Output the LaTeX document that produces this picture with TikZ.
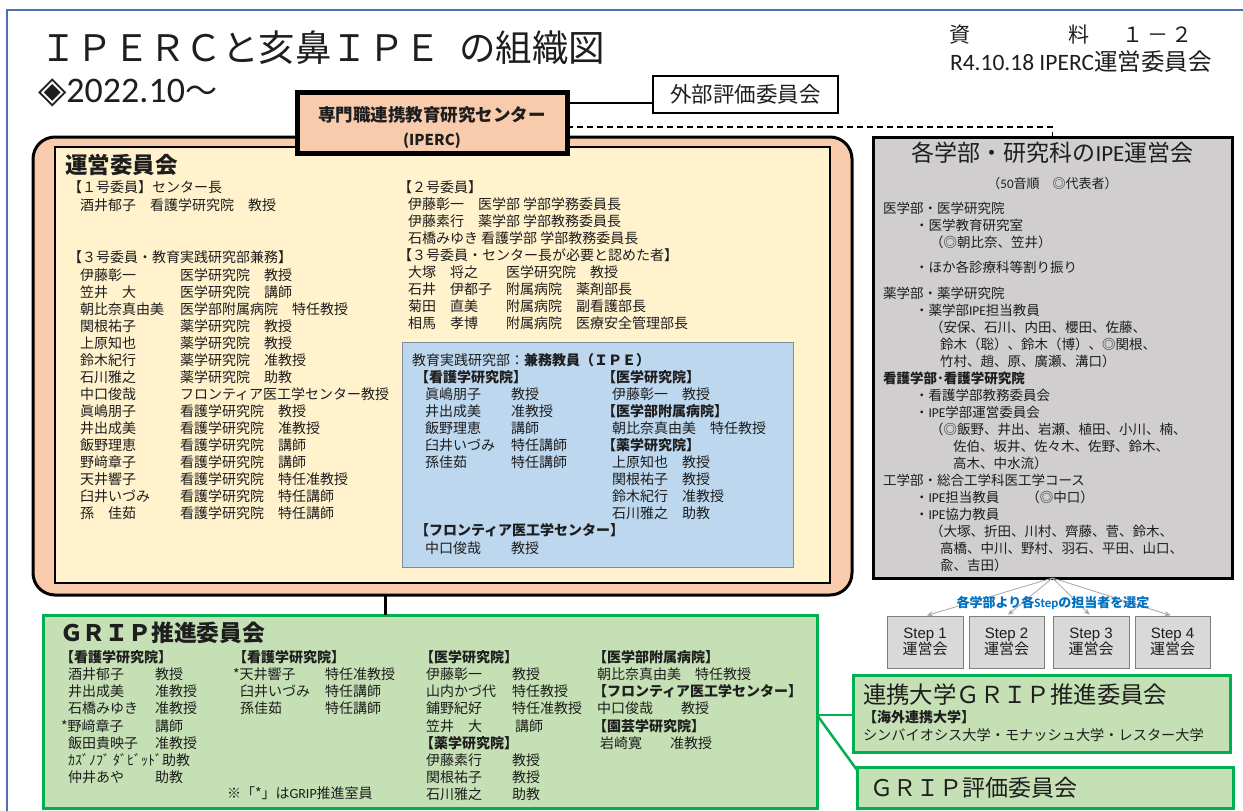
\documentclass[tikz,border=0pt]{standalone}
\usepackage{fontspec}
\setmainfont{Noto Sans CJK JP}
\newfontfamily\lat{Carlito}
\newfontfamily\ari{Liberation Sans}
\newfontfamily\dvs{DejaVu Sans}
\usetikzlibrary{arrows.meta}
\definecolor{tx}{HTML}{1E1E1E}
\definecolor{salmon}{HTML}{F8CBAD}
\definecolor{cream}{HTML}{FFF2CC}
\definecolor{ipeblue}{HTML}{BDD7EE}
\definecolor{blueline}{HTML}{7F8C9E}
\definecolor{grayfill}{HTML}{D0CECE}
\definecolor{grn}{HTML}{00B050}
\definecolor{grnfill}{HTML}{C5E0B4}
\definecolor{stepfill}{HTML}{D9D9D9}
\definecolor{stepline}{HTML}{7F7F7F}
\definecolor{arrgray}{HTML}{A6A6A6}
\definecolor{lblue}{HTML}{0070C0}
\definecolor{frameblue}{HTML}{4A72B0}
\newcommand\fz[2]{\fontsize{#1}{#2}\selectfont}
\newcommand\Lines[1]{\vtop{\halign{##\hfil\cr#1\crcr}}}
\begin{document}
\begin{tikzpicture}[x=1pt,y=-1pt,
  txt/.style={anchor=base west,inner sep=0pt,outer sep=0pt,text=tx},
  ctxt/.style={anchor=base,inner sep=0pt,outer sep=0pt,text=tx},
  boxnw/.style={anchor=north west,inner sep=0pt,outer sep=0pt},
  bodyf/.style={font=\fz{14}{17}},
  gbodyf/.style={font=\fz{14}{17.2}},
  graybodyf/.style={font=\fz{13.5}{17}},
  stepbox/.style={draw=stepline,fill=stepfill,line width=0.8pt,minimum height=52pt,inner sep=0pt,outer sep=0pt,align=center,font=\fz{15}{16},text=tx},
  arr/.style={draw=arrgray,line width=0.8pt,-{Stealth[length=6pt,width=5pt]},shorten >=2pt},
  grline/.style={draw=grn,line width=2.5pt}
]
\useasboundingbox (0,0) rectangle (1243,811);
\fill[white] (0,0) rectangle (1243,811);
\draw[frameblue,line width=1.2pt] (7,830) -- (7,10) -- (1250,10);

% ---------- title ----------
\node[txt,font=\fz{36.5}{40}] (title) at (40,61.7) {ＩＰＥＲＣと亥鼻ＩＰＥ\hspace{18pt}の組織図};
\node[txt] (date) at (38,102) {{\dvs\fz{37}{38}◈}{\lat\fz{36}{38}2022.10}{\fz{32}{34}～}};
\node[txt,font=\fz{21}{24}] (shiryoA) at (949,42.6) {資};
\node[txt,font=\fz{21}{24}] (shiryoB) at (1068,42.6) {料};
\node[txt,font=\fz{21}{24}] (shiryoC) at (1122,42.6) {１\hspace{4pt}－\hspace{4pt}２};
\node[txt,font=\fz{23.5}{26}] (meeting) at (950,70.5) {{\lat R4.10.18 IPERC}運営委員会};

% ---------- boxes ----------
\node[boxnw,draw=black,line width=3pt,fill=salmon,rounded corners=22pt,minimum width=819pt,minimum height=458pt] (salmonbox) at (33,137) {};
\node[boxnw,draw=black,line width=2.5pt,fill=cream,minimum width=775pt,minimum height=436pt] (cream) at (55,147) {};
\node[boxnw,draw=blueline,line width=1pt,fill=ipeblue,minimum width=391pt,minimum height=225pt] (ipe) at (402,342) {};
\node[boxnw,draw=black,line width=5pt,fill=salmon,minimum width=270pt,minimum height=61pt] (iperc) at (297,92) {};
\node[boxnw,draw=black,line width=1.2pt,fill=white,minimum width=185pt,minimum height=37pt,font=\fz{21.5}{24},text=tx] (gaibu) at (653,76) {外部評価委員会};
\node[boxnw,draw=black,line width=3pt,fill=grayfill,minimum width=359pt,minimum height=441pt] (gray) at (873,137) {};
\node[boxnw,draw=grn,line width=3pt,fill=grnfill,minimum width=774pt,minimum height=193pt] (grip) at (43,615) {};
\node[boxnw,draw=grn,line width=3pt,fill=grnfill,minimum width=377pt,minimum height=77pt] (renkei) at (853,675) {};
\node[boxnw,draw=grn,line width=3pt,fill=grnfill,minimum width=376pt,minimum height=41pt] (hyoka) at (857,767) {};

% ---------- connectors ----------
\coordinate (c1) at ([yshift=-8.5pt]gaibu.west);
\draw[line width=2.5pt] (c1) -- (c1 -| iperc.east);
\coordinate (c2) at ([yshift=-4.5pt]iperc.east);
\draw[line width=1.3pt,dash pattern=on 6pt off 4pt] (c2) -| (gray.north);
\coordinate (c3) at ([xshift=-57.5pt]salmonbox.south);
\draw[line width=3pt] (c3) -- (c3 |- grip.north);
\coordinate (rw) at ([yshift=-1.5pt]renkei.west);
\coordinate (c4) at (rw -| grip.east);
\coordinate (hw) at ([yshift=-3pt]hyoka.north west);
\draw[grline] (c4) -- (rw);
\draw[grline] (c4) -- (hw);

% ---------- IPERC ----------
\node[ctxt,font=\bfseries\fz{17.5}{20}] (ipt1) at (432,121.6) {専門職連携教育研究センター};
\node[ctxt,font=\bfseries\fz{15}{18}] (ipt2) at (432,145.5) {(IPERC)};

% ---------- 運営委員会 ----------
\node[txt,font=\bfseries\fz{22.5}{25}] (unei) at (65,173.5) {運営委員会};
\node[txt,bodyf] (L1) at (68,192.3) {【１号委員】センター長};
\node[txt,bodyf] (L2) at (80,210.3) {酒井郁子　看護学研究院　教授};
\node[txt,bodyf] (L3) at (68,262.3) {【３号委員・教育実践研究部兼務】};
\node[txt,bodyf] (L4) at (80,280.3) {\Lines{伊藤彰一\cr 笠井　大\cr 朝比奈真由美\cr 関根祐子\cr 上原知也\cr 鈴木紀行\cr 石川雅之\cr 中口俊哉\cr 眞嶋朋子\cr 井出成美\cr 飯野理恵\cr 野﨑章子\cr 天井響子\cr 臼井いづみ\cr 孫　佳茹}};
\node[txt,bodyf] (L5) at (180,280.3) {\Lines{医学研究院　教授\cr 医学研究院　講師\cr 医学部附属病院　特任教授\cr 薬学研究院　教授\cr 薬学研究院　教授\cr 薬学研究院　准教授\cr 薬学研究院　助教\cr フロンティア医工学センター教授\cr 看護学研究院　教授\cr 看護学研究院　准教授\cr 看護学研究院　講師\cr 看護学研究院　講師\cr 看護学研究院　特任准教授\cr 看護学研究院　特任講師\cr 看護学研究院　特任講師}};
\node[txt,bodyf] (R1) at (398,192.3) {【２号委員】};
\node[txt,bodyf] (R2) at (408,209.3) {\Lines{伊藤彰一　医学部 学部学務委員長\cr 伊藤素行　薬学部 学部教務委員長\cr 石橋みゆき 看護学部 学部教務委員長}};
\node[txt,bodyf] (R3) at (398,260.3) {【３号委員・センター長が必要と認めた者】};
\node[txt,bodyf] (R4) at (408,277.3) {\Lines{大塚　将之　　医学研究院　教授\cr 石井　伊都子　附属病院　薬剤部長\cr 菊田　直美　　附属病院　副看護部長\cr 相馬　孝博　　附属病院　医療安全管理部長}};

% ---------- IPE blue box ----------
\node[txt,bodyf] (B0) at (412,365.3) {教育実践研究部：{\bfseries 兼務教員（ＩＰＥ）}};
\node[txt,bodyf] (B1) at (415,382.3) {\bfseries【看護学研究院】};
\node[txt,bodyf] (B2) at (425,399.3) {\Lines{眞嶋朋子\cr 井出成美\cr 飯野理恵\cr 臼井いづみ\cr 孫佳茹}};
\node[txt,bodyf] (B3) at (511,399.3) {\Lines{教授\cr 准教授\cr 講師\cr 特任講師\cr 特任講師}};
\node[txt,bodyf] (B4) at (602,382.3) {\Lines{\bfseries【医学研究院】\cr\hspace{10pt}伊藤彰一　教授\cr\bfseries【医学部附属病院】\cr\hspace{10pt}朝比奈真由美　特任教授\cr\bfseries【薬学研究院】\cr\hspace{10pt}上原知也　教授\cr\hspace{10pt}関根祐子　教授\cr\hspace{10pt}鈴木紀行　准教授\cr\hspace{10pt}石川雅之　助教}};
\node[txt,bodyf] (B5) at (415,535.3) {\bfseries【フロンティア医工学センター】};
\node[txt,bodyf] (B6) at (425,553.3) {中口俊哉};
\node[txt,bodyf] (B7) at (511,553.3) {教授};

% ---------- gray box ----------
\node[ctxt,font=\fz{23}{26}] (gt) at (1052.5,161.7) {各学部・研究科の{\lat IPE}運営会};
\node[ctxt,font=\fz{13}{16}] (gs) at (1052.5,188) {（{\lat 50}音順　◎代表者）};
\node[txt,graybodyf] (gA) at (883,213.1) {\Lines{医学部・医学研究院\cr\hspace{32pt}・医学教育研究室\cr\hspace{47pt}（◎朝比奈、笠井）}};
\node[txt,graybodyf] (gB) at (915,272.1) {・ほか各診療科等割り振り};
\node[txt,graybodyf] (gC) at (883,298.1) {\Lines{薬学部・薬学研究院\cr
\hspace{32pt}・薬学部{\lat IPE}担当教員\cr
\hspace{47pt}（安保、石川、内田、櫻田、佐藤、\cr
\hspace{57pt}鈴木（聡）、鈴木（博）、◎関根、\cr
\hspace{57pt}竹村、趙、原、廣瀬、溝口）\cr
\bfseries 看護学部･看護学研究院\cr
\hspace{32pt}・看護学部教務委員会\cr
\hspace{32pt}・{\lat IPE}学部運営委員会\cr
\hspace{47pt}（◎飯野、井出、岩瀬、植田、小川、楠、\cr
\hspace{70pt}佐伯、坂井、佐々木、佐野、鈴木、\cr
\hspace{70pt}高木、中水流）\cr
工学部・総合工学科医工学コース\cr
\hspace{32pt}・{\lat IPE}担当教員　　（◎中口）\cr
\hspace{32pt}・{\lat IPE}協力教員\cr
\hspace{47pt}（大塚、折田、川村、齊藤、菅、鈴木、\cr
\hspace{57pt}高橋、中川、野村、羽石、平田、山口、\cr
\hspace{57pt}兪、吉田）}};

% ---------- steps ----------
\node[stepbox,minimum width=76pt] (s1) at (925,642) {{\ari Step 1}\\運営会};
\node[stepbox,minimum width=75pt] (s2) at (1006.5,642) {{\ari Step 2}\\運営会};
\node[stepbox,minimum width=76pt] (s3) at (1091,642) {{\ari Step 3}\\運営会};
\node[stepbox,minimum width=75pt] (s4) at (1172.5,642) {{\ari Step 4}\\運営会};
\coordinate (src) at (gray.south);
\draw[arr] (src) -- (s1.north);
\draw[arr] (src) -- (s2.north);
\draw[arr] (src) -- (s3.north);
\draw[arr] (src) -- (s4.north);
\node[anchor=base,inner sep=0pt,font=\bfseries\fz{13}{15},text=lblue] (lbl) at (1053,607) {各学部より各{\lat Step}の担当者を選定};

% ---------- GRIP ----------
\node[txt,font=\bfseries\fz{22.8}{25}] (gript) at (60,641.7) {ＧＲＩＰ推進委員会};
\node[txt,gbodyf] (G1) at (60,662.3) {\Lines{\bfseries【看護学研究院】\cr\hspace{8pt}酒井郁子\cr\hspace{8pt}井出成美\cr\hspace{8pt}石橋みゆき\cr\hspace{1pt}*野﨑章子\cr\hspace{8pt}飯田貴映子\cr\hspace{8pt}ｶｽﾞﾉﾌﾞ ﾀﾞﾋﾞｯﾄﾞ助教\cr\hspace{8pt}仲井あや}};
\node[txt,gbodyf] (G2) at (155,679.5) {\Lines{教授\cr 准教授\cr 准教授\cr 講師\cr 准教授\cr\cr 助教}};
\node[txt,gbodyf] (G3) at (233,662.3) {\Lines{\bfseries【看護学研究院】\cr *天井響子\cr\hspace{7pt}臼井いづみ\cr\hspace{7pt}孫佳茹}};
\node[txt,gbodyf] (G4) at (325,679.5) {\Lines{特任准教授\cr 特任講師\cr 特任講師}};
\node[txt,gbodyf] (G5) at (227,798.3) {※「*」は{\lat GRIP}推進室員};
\node[txt,gbodyf] (G6) at (420,662.3) {\Lines{\bfseries【医学研究院】\cr\hspace{6pt}伊藤彰一\cr\hspace{6pt}山内かづ代\cr\hspace{6pt}鋪野紀好\cr\hspace{6pt}笠井　大\cr\bfseries【薬学研究院】\cr\hspace{6pt}伊藤素行\cr\hspace{6pt}関根祐子\cr\hspace{6pt}石川雅之}};
\node[txt,gbodyf] (G7) at (512,679.5) {\Lines{教授\cr 特任教授\cr 特任准教授\cr\hspace{3pt}講師\cr\cr 教授\cr 教授\cr 助教}};
\node[txt,gbodyf] (G8) at (593,662.3) {\Lines{\bfseries【医学部附属病院】\cr\hspace{4pt}朝比奈真由美　特任教授\cr\bfseries【フロンティア医工学センター】\cr\hspace{4pt}中口俊哉　　教授\cr\bfseries【園芸学研究院】\cr\hspace{7pt}岩崎寛　　准教授}};

% ---------- partner / evaluation ----------
\node[txt,font=\fz{23.4}{26}] (rt) at (863,703.9) {連携大学ＧＲＩＰ推進委員会};
\node[txt,font=\bfseries\fz{14}{17}] (rt2) at (863,722.3) {【海外連携大学】};
\node[txt,font=\fz{14.2}{17}] (rt3) at (863,740.4) {シンバイオシス大学・モナッシュ大学・レスター大学};
\node[txt,font=\fz{23}{26}] (ht) at (870,796.7) {ＧＲＩＰ評価委員会};
\end{tikzpicture}
\end{document}
